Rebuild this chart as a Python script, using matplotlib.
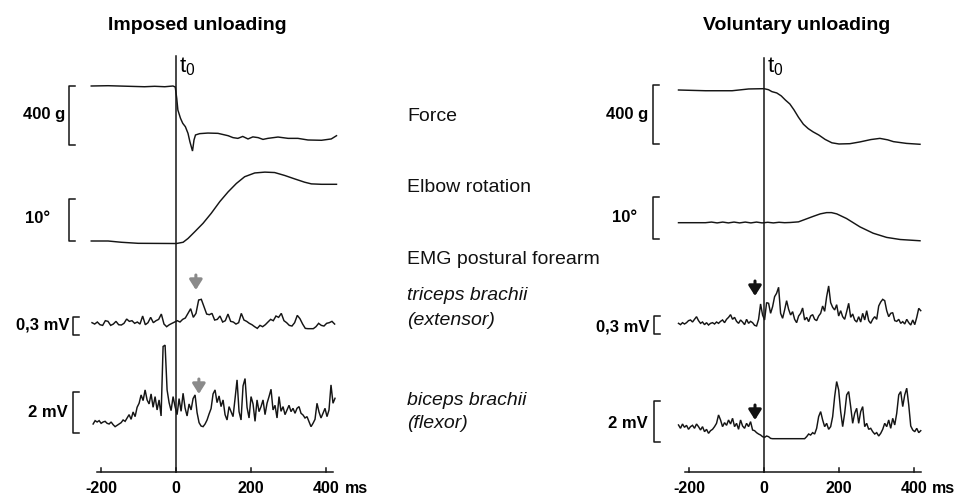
import numpy as np
import matplotlib.pyplot as plt
from matplotlib.transforms import blended_transform_factory

plt.rcParams['font.family'] = ['Liberation Sans', 'DejaVu Sans']
plt.rcParams['mathtext.fontset'] = 'custom'
plt.rcParams['mathtext.rm'] = 'Liberation Sans'

W, H = 959, 497
PX_MS = 0.375          # pixels per millisecond

# ---------------- data ----------------
# Imposed unloading: force change (g) and elbow angle (deg)
imp_force_t = [-226, -181, -84, -57, -30, -8, -2, 2, 5, 12, 18, 25, 32, 37, 44, 48, 52, 63,
               85, 112, 139, 152, 165, 178, 192, 205, 219, 232, 245, 272, 299, 325, 352, 388, 414, 428]
imp_force_g = [0, 2, -5, -2, -5, 0, -7, -84, -163, -219, -253, -276, -321, -377, -441, -366, -332, -323,
               -319, -321, -337, -350, -355, -342, -359, -345, -350, -362, -355, -346, -355, -355, -366, -368, -359, -337]

imp_elbow_t = [-226, -181, -146, -101, 1, 19, 32, 50, 72, 94, 117, 139, 161, 183, 210, 237, 263,
               290, 316, 343, 361, 388, 428]
imp_elbow_deg = [0, 0, -0.3, -0.55, -0.6, -0.3, 0.6, 2.2, 4.2, 6.6, 9.4, 11.7, 13.7, 15.3, 16.2, 16.4, 16.3,
                 15.6, 14.8, 14.0, 13.6, 13.5, 13.5]

# Imposed unloading EMG (uV), evenly sampled between the given start/end times
imp_tri_span = (-224, 423)
imp_tri_uv = [67, 44, 78, 33, 22, 100, 89, 22, 44, 89, 33, 28, 56, 128, 89, 100, 56, 78, 44, 178,
              33, 67, 156, 67, 100, 122, 211, 44, 0, 33, 56, 78, 100, 78, 122, 145, 222, 300, 156, 222,
              445, 456, 334, 211, 200, 222, 111, 122, 178, 78, 100, 211, 89, 78, 44, 67, 222, 111, 89, 56,
              33, 0, -28, 22, 0, 33, 78, 122, 100, 178, 156, 222, 100, 67, 22, 11, 67, 189, 133, 44,
              -28, -33, -33, -33, 0, 56, 22, 11, 56, 67, 89, 44]
imp_bic_span = (-221, 424)
imp_bic_uv = [0, 163, 98, 163, 33, 98, 130, 33, 0, 98, -33, -130, -65, 0, 65, 196, 130, 293, 456, 228,
              587, 359, 815, 1011, 1418, 1141, 1663, 1174, 978, 1467, 815, 1337, 685, 1174, 391, 3782, 3847, 1663, 1043, 652,
              1337, 848, 456, 1239, 619, 1500, 782, 391, 978, 685, 1239, 1418, 554, 65, -98, -130, 0, 196, 489, 750,
              1467, 1663, 1043, 1369, 848, 1174, 456, 196, 848, 603, 359, 1239, 2152, 603, 196, 1858, 2217, 815, 293, 1337,
              978, 130, 1174, 603, 848, 1174, 456, 1011, 1337, 1695, 685, 913, 293, 1337, 619, 848, 456, 685, 913, 603,
              766, 522, 766, 848, 522, 440, 293, 359, 114, -130, 33, 228, 1011, 587, 293, 522, 766, 359, 685, 1907,
              1011, 1255]

# Voluntary unloading
vol_force_t = [-228, -156, -85, -41, 0, 12, 21, 34, 46, 57, 69, 80, 92, 105, 118, 131, 146, 163, 181,
               200, 229, 256, 285, 309, 330, 345, 380, 416]
vol_force_g = [0, -5, -5, 7, 9, 2, -11, -20, -40, -68, -95, -135, -185, -232, -262, -284, -305, -335, -358,
               -366, -364, -352, -336, -328, -338, -350, -362, -368]

vol_elbow_t = [-228, -156, -140, -125, -110, -95, -80, -65, -50, -35, -20, -5, 10, 25, 40, 55, 70, 92,
               110, 131, 150, 167, 180, 194, 220, 256, 291, 327, 363, 416]
vol_elbow_deg = [0, 0, 0.15, -0.05, 0.15, -0.05, 0.15, -0.05, 0.15, -0.05, 0.15, -0.05, 0.1, -0.05, 0.1, 0, 0.05, 0.2,
                 0.8, 1.5, 2.1, 2.4, 2.4, 2.1, 1.0, -1.0, -2.5, -3.5, -4.0, -4.3]

vol_tri_span = (-228, 418)
vol_tri_uv = [11, -11, 22, 0, 22, 56, 67, 33, 78, 122, 56, 11, 33, -11, 22, -17, 11, 22, 0, 33,
              11, 44, 67, 22, 78, 111, 156, 78, 111, 44, 11, 67, 33, -11, 78, 11, 44, 22, -22, -33,
              78, 334, 150, 67, 356, 345, 178, 289, 456, 512, 612, 178, 95, 234, 389, 245, 150, 206, 78, 22,
              133, 178, 267, 67, 111, 39, 133, 156, 78, 56, 133, 178, 300, 211, 456, 634, 356, 278, 234, 322,
              133, 222, 122, 78, 206, 345, 111, 167, 67, 33, 122, 33, 178, 67, 222, 56, 11, 78, 122, 78,
              300, 367, 411, 389, 222, 122, 178, 189, 56, 44, 78, 11, 39, 0, 78, 22, -17, 67, -11, 111,
              261, 222]
vol_bic_span = (-228, 418)
vol_bic_uv = [245, 82, 293, 130, 228, 33, 163, 228, 82, 293, 163, 0, 163, -82, 33, -163, -33, 33, 163, 326,
              734, 489, 163, 359, 228, 489, 293, 571, 163, 326, 33, 489, 196, 82, 326, 163, 408, 0, -33, -130,
              -196, -245, -326, -359, -293, -326, -408] + [-424] * 17 + \
             [-326, -196, -245, -130, -196, 82, 652, 897, 489, 163, 326, 33, 163, 652, 1630, 2364, 1956, 897, 163, 815,
              1712, 1875, 1141, 326, 815, 1060, 326, 897, 1141, 163, 326, 33, 82, -82, -196, -130, -293, -163, 33, 326,
              163, 489, 82, 571, 245, 815, 1712, 1875, 1141, 1712, 2038, 1223, 196, 0, -82, 82, -130, -33]

# EMG onset arrows (ms)
imp_onsets = [53, 61]
vol_onsets = [-24, -24]

ticks_ms = [-200, 0, 200, 400]
tick_labels = ['-200', '0', '200', '400']

row_labels = [('Force', 121, 'normal'), ('Elbow rotation', 192, 'normal'),
              ('EMG postural forearm', 264, 'normal'), ('triceps brachii', 300, 'italic'),
              ('(extensor)', 325, 'italic'), ('biceps brachii', 405, 'italic'), ('(flexor)', 428, 'italic')]

# ---------------- layout ----------------
fig = plt.figure(figsize=(W / 100, H / 100), dpi=100)
pix = fig.add_axes([0, 0, 1, 1], label='pix')
pix.set_xlim(0, W)
pix.set_ylim(H, 0)
pix.axis('off')

LC = '#151515'
AXIS_Y = 472.3


def new_axes(name, x0, ylim):
    ax = fig.add_axes([0, 0, 1, 1], label=name)
    ax.set_xlim(-x0 / PX_MS, (W - x0) / PX_MS)
    ax.set_ylim(*ylim)
    ax.axis('off')
    return ax


def trace(name, x0, t, v, base, k, bar_x, bar_lo, bar_len, label, lab_x, lab_y):
    ax = new_axes(name, x0, (-(H - base) / k, base / k))
    ax.plot(t, v, color=LC, lw=1.05, solid_joinstyle='miter')
    tr = blended_transform_factory(pix.transData, ax.transData)
    ax.plot([bar_x + 6, bar_x, bar_x, bar_x + 6],
            [bar_lo, bar_lo, bar_lo + bar_len, bar_lo + bar_len],
            color=LC, lw=1.1, transform=tr)
    pix.text(lab_x, lab_y, label, fontsize=12, fontweight='bold', ha='right', va='baseline')
    return ax


def emg_t(span, vals):
    return np.linspace(span[0], span[1], len(vals))


def panel(name, x0, title, title_x, t0_top, ms_x):
    ax = new_axes(name, x0, (H, 0))
    ax.plot([0, 0], [t0_top, AXIS_Y], color=LC, lw=1.1)
    ax.plot([-211, 418], [AXIS_Y, AXIS_Y], color=LC, lw=1.1)
    for tm, tl in zip(ticks_ms, tick_labels):
        ax.plot([tm, tm], [AXIS_Y, AXIS_Y - 4], color=LC, lw=1.1)
        ax.text(tm, 493, tl, fontsize=11.5, fontweight='bold', ha='center', va='baseline')
    pix.text(ms_x, 493, 'ms', fontsize=11.5, fontweight='bold', ha='left', va='baseline')
    pix.text(title_x, 29.5, title, fontsize=14, fontweight='bold', ha='center', va='baseline')
    pix.text(x0 + 3, 72, r'$\mathrm{t}_0$', fontsize=16, ha='left', va='baseline')
    return ax


# Imposed unloading (left)
L0 = 176
lp = panel('left', L0, 'Imposed unloading', 197, 56, 345)
trace('lf', L0, imp_force_t, imp_force_g, 86, 59 / 400, 69, -400, 400, '400 g', 65, 119)
trace('le', L0, imp_elbow_t, imp_elbow_deg, 241, 4.2, 69, 0, 10, '10°', 50, 223)
trace('lt', L0, emg_t(imp_tri_span, imp_tri_uv), imp_tri_uv, 326.7, 0.06, 73, -140, 300, '0,3 mV', 70, 330)
trace('lb', L0, emg_t(imp_bic_span, imp_bic_uv), imp_bic_uv, 424, 0.0205, 73, -440, 2000, '2 mV', 68, 417)

# Voluntary unloading (right)
R0 = 764
rp = panel('right', R0, 'Voluntary unloading', 797, 58, 932)
trace('rf', R0, vol_force_t, vol_force_g, 90, 59 / 400, 653, -366, 400, '400 g', 648, 119)
trace('re', R0, vol_elbow_t, vol_elbow_deg, 222.7, 4.2, 653, -3.8, 10, '10°', 637, 222)
trace('rt', R0, emg_t(vol_tri_span, vol_tri_uv), vol_tri_uv, 324, 0.06, 654, -167, 300, '0,3 mV', 649, 332)
trace('rb', R0, emg_t(vol_bic_span, vol_bic_uv), vol_bic_uv, 430, 0.0205, 654, -585, 2000, '2 mV', 648, 428)

# onset arrows
for ax, onsets, tips, col in [(lp, imp_onsets, [290, 394], '#8a8a8a'),
                              (rp, vol_onsets, [296, 420], '#111111')]:
    for tm, tip in zip(onsets, tips):
        ax.annotate('', xy=(tm, tip), xytext=(tm, tip - 15),
                    arrowprops=dict(arrowstyle='-|>,head_width=0.38,head_length=0.6',
                                    color=col, lw=2.2, shrinkA=0, shrinkB=0, mutation_scale=10))

# row labels in the middle
for txt, y, style in row_labels:
    pix.text(407, y, txt, fontsize=14, fontstyle=style, ha='left', va='baseline', color='#111111')

fig.savefig('out.png', dpi=100, facecolor='white')
